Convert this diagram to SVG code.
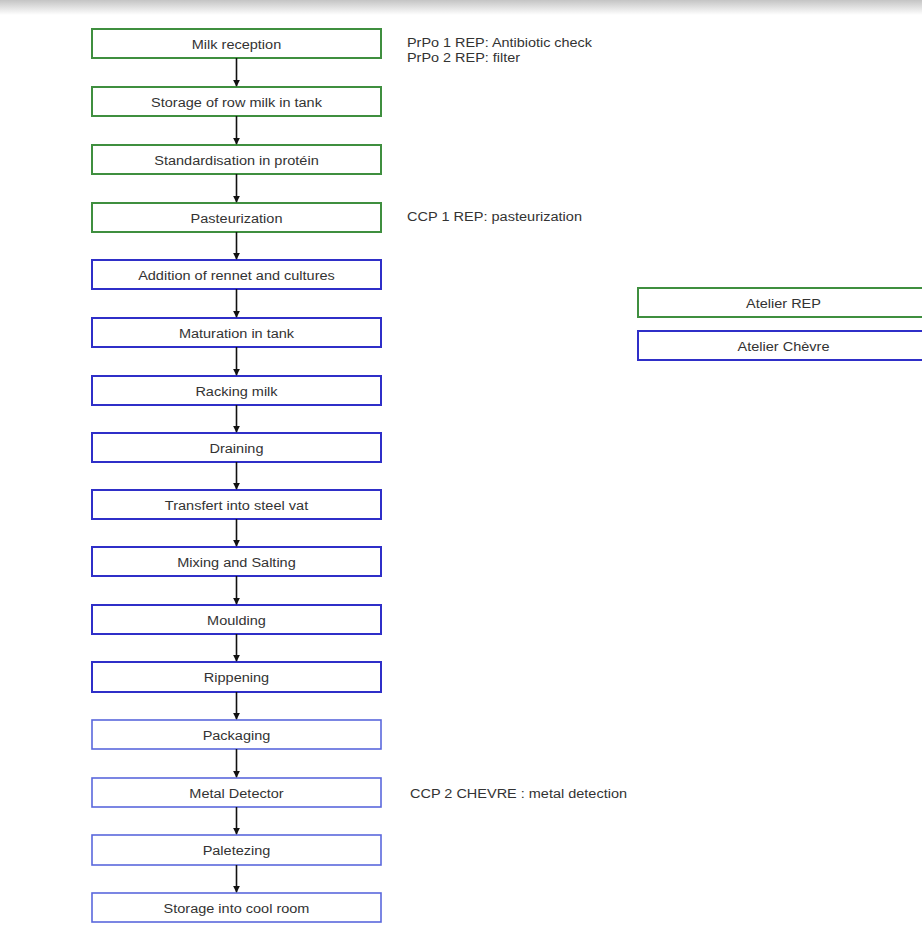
<svg xmlns="http://www.w3.org/2000/svg" width="922" height="926" viewBox="0 0 922 926">
<defs>
<linearGradient id="shade" x1="0" y1="0" x2="0" y2="1">
<stop offset="0" stop-color="#c4c4c4"/>
<stop offset="1" stop-color="#ffffff"/>
</linearGradient>
<marker id="arr" viewBox="0 0 10 10" refX="9" refY="5" markerWidth="7" markerHeight="7" markerUnits="userSpaceOnUse" orient="auto">
<path d="M0,0 L10,5 L0,10 Z" fill="#111"/>
</marker>
<style>
.g rect{fill:#fff;stroke:#3f8f3f;stroke-width:2}
.b rect{fill:#fff;stroke:#2f2fc8;stroke-width:2}
.lb rect{fill:#fff;stroke:#5a68dc;stroke-width:1.6}
text{font-family:"Liberation Sans",Arial,sans-serif;font-size:12px;fill:#333}
.c{text-anchor:middle}
#connectors line{stroke:#111;stroke-width:1.6;marker-end:url(#arr)}
</style>
</defs>
<rect width="922" height="926" fill="#fff"/>
<rect x="0" y="0" width="922" height="15" fill="url(#shade)"/>

<g id="n1" class="g"><rect x="92" y="29" width="289" height="29"/><text class="c" x="236.5" y="48.5" textLength="89.4" lengthAdjust="spacingAndGlyphs">Milk reception</text></g>
<g id="n2" class="g"><rect x="92" y="87" width="289" height="29"/><text class="c" x="236.5" y="106.5" textLength="170.8" lengthAdjust="spacingAndGlyphs">Storage of row milk in tank</text></g>
<g id="n3" class="g"><rect x="92" y="145" width="289" height="29"/><text class="c" x="236.5" y="164.5" textLength="164.4" lengthAdjust="spacingAndGlyphs">Standardisation in protéin</text></g>
<g id="n4" class="g"><rect x="92" y="203" width="289" height="29"/><text class="c" x="236.5" y="222.5" textLength="91.9" lengthAdjust="spacingAndGlyphs">Pasteurization</text></g>
<g id="n5" class="b"><rect x="92" y="260" width="289" height="29"/><text class="c" x="236.5" y="279.5" textLength="196.7" lengthAdjust="spacingAndGlyphs">Addition of rennet and cultures</text></g>
<g id="n6" class="b"><rect x="92" y="318" width="289" height="29"/><text class="c" x="236.5" y="337.5" textLength="115.2" lengthAdjust="spacingAndGlyphs">Maturation in tank</text></g>
<g id="n7" class="b"><rect x="92" y="376" width="289" height="29"/><text class="c" x="236.5" y="395.5" textLength="82.2" lengthAdjust="spacingAndGlyphs">Racking milk</text></g>
<g id="n8" class="b"><rect x="92" y="433" width="289" height="29"/><text class="c" x="236.5" y="452.5" textLength="54" lengthAdjust="spacingAndGlyphs">Draining</text></g>
<g id="n9" class="b"><rect x="92" y="490" width="289" height="29"/><text class="c" x="236.5" y="509.5" textLength="143.4" lengthAdjust="spacingAndGlyphs">Transfert into steel vat</text></g>
<g id="n10" class="b"><rect x="92" y="547" width="289" height="29"/><text class="c" x="236.5" y="566.5" textLength="118.5" lengthAdjust="spacingAndGlyphs">Mixing and Salting</text></g>
<g id="n11" class="b"><rect x="92" y="605" width="289" height="29"/><text class="c" x="236.5" y="624.5" textLength="58.8" lengthAdjust="spacingAndGlyphs">Moulding</text></g>
<g id="n12" class="b"><rect x="92" y="662" width="289" height="30"/><text class="c" x="236.5" y="682" textLength="65.3" lengthAdjust="spacingAndGlyphs">Rippening</text></g>
<g id="n13" class="lb"><rect x="92" y="720" width="289" height="29"/><text class="c" x="236.5" y="739.5" textLength="67.7" lengthAdjust="spacingAndGlyphs">Packaging</text></g>
<g id="n14" class="lb"><rect x="92" y="778" width="289" height="29"/><text class="c" x="236.5" y="797.5" textLength="94.3" lengthAdjust="spacingAndGlyphs">Metal Detector</text></g>
<g id="n15" class="lb"><rect x="92" y="835" width="289" height="30"/><text class="c" x="236.5" y="855" textLength="67.7" lengthAdjust="spacingAndGlyphs">Paletezing</text></g>
<g id="n16" class="lb"><rect x="92" y="893" width="289" height="29"/><text class="c" x="236.5" y="912.5" textLength="145.9" lengthAdjust="spacingAndGlyphs">Storage into cool room</text></g>

<g id="connectors">
<line x1="236.5" y1="58" x2="236.5" y2="86"/>
<line x1="236.5" y1="116" x2="236.5" y2="144"/>
<line x1="236.5" y1="174" x2="236.5" y2="202"/>
<line x1="236.5" y1="232" x2="236.5" y2="259"/>
<line x1="236.5" y1="289" x2="236.5" y2="317"/>
<line x1="236.5" y1="347" x2="236.5" y2="375"/>
<line x1="236.5" y1="405" x2="236.5" y2="432"/>
<line x1="236.5" y1="462" x2="236.5" y2="489"/>
<line x1="236.5" y1="519" x2="236.5" y2="546"/>
<line x1="236.5" y1="576" x2="236.5" y2="604"/>
<line x1="236.5" y1="634" x2="236.5" y2="661"/>
<line x1="236.5" y1="692" x2="236.5" y2="719"/>
<line x1="236.5" y1="749" x2="236.5" y2="777"/>
<line x1="236.5" y1="807" x2="236.5" y2="834"/>
<line x1="236.5" y1="865" x2="236.5" y2="892"/>
</g>

<g id="notes">
<text x="407" y="47" textLength="185" lengthAdjust="spacingAndGlyphs">PrPo 1 REP: Antibiotic check</text>
<text x="407" y="62" textLength="113" lengthAdjust="spacingAndGlyphs">PrPo 2 REP: filter</text>
<text x="407" y="221" textLength="175" lengthAdjust="spacingAndGlyphs">CCP 1 REP: pasteurization</text>
<text x="410" y="798" textLength="217" lengthAdjust="spacingAndGlyphs">CCP 2 CHEVRE : metal detection</text>
</g>

<g id="legend-rep" class="g"><rect x="638" y="288" width="290" height="29"/><text class="c" x="783.5" y="307.5" textLength="74.9" lengthAdjust="spacingAndGlyphs">Atelier REP</text></g>
<g id="legend-chevre" class="b"><rect x="638" y="331" width="290" height="29"/><text class="c" x="783.5" y="350.5" textLength="91.9" lengthAdjust="spacingAndGlyphs">Atelier Chèvre</text></g>
</svg>
